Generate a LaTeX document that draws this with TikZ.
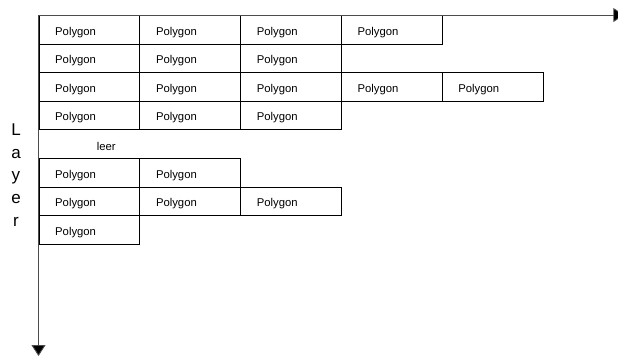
\documentclass[tikz,border=0pt]{standalone}
\usepackage{fontspec}
\setmainfont{Liberation Sans}
\usetikzlibrary{arrows.meta}
\begin{document}
\begin{tikzpicture}[x=1pt,y=-1pt,
  cell/.style={draw=black, line width=0.8pt, minimum width=100.8pt,
    minimum height=28.6pt, inner sep=0pt, anchor=north west},
  celltext/.style={anchor=base west, inner sep=0pt,
    font=\fontsize{11.3}{13}\selectfont},
  axistext/.style={anchor=base, inner sep=0pt,
    font=\fontsize{17}{20}\selectfont},
  axis/.style={draw=black!70, line width=0.9pt,
    -{Triangle[length=11pt,width=14pt,fill=black]}},
]
\useasboundingbox (0,0) rectangle (618,356);
\clip (0,0) rectangle (618,356);

% layer rows: row number / number of polygon cells
\foreach \r/\n in {1/4,2/3,3/5,4/3,6/2,7/3,8/1} {
  \foreach \c in {1,...,\n} {
    \node[cell] (cell-\r-\c) at ({38.5+100.8*(\c-1)}, {15+28.6*(\r-1)}) {};
    \node[celltext] (txt-\r-\c) at ([xshift=16.5pt, yshift=-20pt]cell-\r-\c.north west) {Polygon};
  }
}

% empty row
\node[celltext] (leer) at (96.7,150) {leer};

% axes
\coordinate (origin) at (38.5,15);
\coordinate (xend) at (624.3,15);
\coordinate (yend) at (38.5,356);
\draw[axis] (origin) -- (xend);
\draw[axis] (origin) -- (yend);

% vertical axis caption
\node[axistext] (ax-L) at (16,135) {L};
\node[axistext] (ax-a) at (16,158) {a};
\node[axistext] (ax-y) at (16,180.8) {y};
\node[axistext] (ax-e) at (16,203.7) {e};
\node[axistext] (ax-r) at (16,226.6) {r};
\end{tikzpicture}
\end{document}
